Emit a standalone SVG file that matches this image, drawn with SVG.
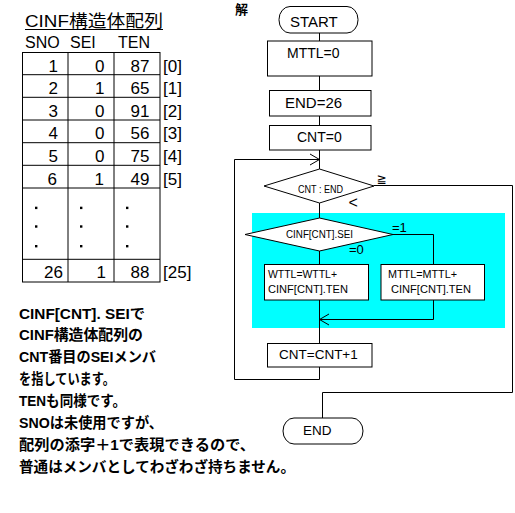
<svg xmlns="http://www.w3.org/2000/svg" width="515" height="513" viewBox="0 0 515 513">
<style>
text{font-family:"Liberation Sans","Noto Sans CJK JP",sans-serif;fill:#000}
.t17{font-size:17px}
.num{font-size:17px;text-anchor:end}
.jp{font-size:14.5px;font-weight:bold}
.box{fill:#fff;stroke:#000;stroke-width:1}
.ln{fill:none;stroke:#000;stroke-width:1}
.f11{font-size:11px}
</style>
<rect width="515" height="513" fill="#fff"/>
<g id="title">
<text x="25" y="27" class="t17" textLength="138" lengthAdjust="spacingAndGlyphs">CINF構造体配列</text>
<line x1="25" y1="29.5" x2="163" y2="29.5" class="ln"/>
</g>
<g id="header" style="font-size:16px">
<text x="25" y="47.5">SNO</text>
<text x="70" y="47.5">SEI</text>
<text x="118" y="47.5">TEN</text>
</g>
<g id="table">
<rect x="22.5" y="52.5" width="137.5" height="229.5" class="ln"/>
<line x1="68" y1="52.5" x2="68" y2="282" class="ln"/>
<line x1="114" y1="52.5" x2="114" y2="282" class="ln"/>
<g class="ln">
<line x1="22.5" y1="74.7" x2="160" y2="74.7"/>
<line x1="22.5" y1="97.3" x2="160" y2="97.3"/>
<line x1="22.5" y1="120" x2="160" y2="120"/>
<line x1="22.5" y1="142.7" x2="160" y2="142.7"/>
<line x1="22.5" y1="165.3" x2="160" y2="165.3"/>
<line x1="22.5" y1="188" x2="160" y2="188"/>
<line x1="22.5" y1="259.3" x2="160" y2="259.3"/>
</g>
<g>
<text x="58" y="72" class="num">1</text><text x="104.5" y="72" class="num">0</text><text x="149.5" y="72" class="num">87</text><text x="163" y="72" class="t17">[0]</text>
<text x="58" y="94" class="num">2</text><text x="104.5" y="94" class="num">1</text><text x="149.5" y="94" class="num">65</text><text x="163" y="94" class="t17">[1]</text>
<text x="58" y="116.7" class="num">3</text><text x="104.5" y="116.7" class="num">0</text><text x="149.5" y="116.7" class="num">91</text><text x="163" y="116.7" class="t17">[2]</text>
<text x="58" y="139.3" class="num">4</text><text x="104.5" y="139.3" class="num">0</text><text x="149.5" y="139.3" class="num">56</text><text x="163" y="139.3" class="t17">[3]</text>
<text x="58" y="162" class="num">5</text><text x="104.5" y="162" class="num">0</text><text x="149.5" y="162" class="num">75</text><text x="163" y="162" class="t17">[4]</text>
<text x="57" y="184.5" class="num">6</text><text x="104" y="184.5" class="num">1</text><text x="149.5" y="184.5" class="num">49</text><text x="163" y="184.5" class="t17">[5]</text>
<text x="63" y="278" class="num">26</text><text x="106" y="278" class="num">1</text><text x="149.5" y="278" class="num">88</text><text x="163" y="278" class="t17">[25]</text>
</g>
<g fill="#000">
<rect x="35" y="206.7" width="2.4" height="2.4"/><rect x="80" y="206.7" width="2.4" height="2.4"/><rect x="126" y="206.7" width="2.4" height="2.4"/>
<rect x="35" y="225.3" width="2.4" height="2.4"/><rect x="80" y="225.3" width="2.4" height="2.4"/><rect x="126" y="225.3" width="2.4" height="2.4"/>
<rect x="35" y="245" width="2.4" height="2.4"/><rect x="80" y="245" width="2.4" height="2.4"/><rect x="126" y="245" width="2.4" height="2.4"/>
</g>
</g>
<g id="note">
<text x="19" y="318.5" class="jp" textLength="126" lengthAdjust="spacingAndGlyphs">CINF[CNT]. SEIで</text>
<text x="19" y="340.4" class="jp" textLength="124" lengthAdjust="spacingAndGlyphs">CINF構造体配列の</text>
<text x="19" y="362.3" class="jp" textLength="137" lengthAdjust="spacingAndGlyphs">CNT番目のSEIメンバ</text>
<text x="19" y="384.2" class="jp" textLength="96" lengthAdjust="spacingAndGlyphs">を指しています。</text>
<text x="19" y="406.1" class="jp" textLength="107" lengthAdjust="spacingAndGlyphs">TENも同様です。</text>
<text x="19" y="428" class="jp" textLength="144" lengthAdjust="spacingAndGlyphs">SNOは未使用ですが、</text>
<text x="19" y="449.9" class="jp" textLength="236" lengthAdjust="spacingAndGlyphs">配列の添字＋1で表現できるので、</text>
<text x="19" y="471.8" class="jp" textLength="276" lengthAdjust="spacingAndGlyphs">普通はメンバとしてわざわざ持ちません。</text>
</g>
<text id="kai" x="235" y="14" style="font-size:13px;font-weight:bold">解</text>
<rect id="loopbg" x="252" y="213" width="253" height="115" fill="#00ffff"/>
<g id="connectors" class="ln">
<line x1="319.5" y1="33" x2="319.5" y2="41"/>
<line x1="319.5" y1="76" x2="319.5" y2="90"/>
<line x1="319.5" y1="116" x2="319.5" y2="125"/>
<line x1="319.5" y1="150" x2="319.5" y2="169"/>
<polyline points="319.5,367 319.5,379.5 234.5,379.5 234.5,159.5 319.5,159.5"/>
<polyline points="310,154 319.5,159.5 310,165"/>
<line x1="319.5" y1="203" x2="319.5" y2="218"/>
<polyline points="374,185.5 512.5,185.5 512.5,392.5 322.5,392.5 322.5,418"/>
<polyline points="393,234.5 433.5,234.5 433.5,264"/>
<line x1="319.5" y1="251" x2="319.5" y2="264"/>
<polyline points="433.5,300 433.5,319.5 319.5,319.5"/>
<polyline points="329,314 319.5,319.5 329,325"/>
<line x1="319.5" y1="300" x2="319.5" y2="343"/>
</g>
<g id="start">
<rect x="279" y="6.5" width="79" height="26.5" rx="11" ry="13" class="box"/>
<text x="290" y="27" style="font-size:15px">START</text>
</g>
<g id="mttl0">
<rect x="267.5" y="41" width="104.5" height="35" class="box"/>
<text x="287" y="58.3" style="font-size:14px">MTTL=0</text>
</g>
<g id="end26">
<rect x="269.5" y="90.5" width="101.5" height="25.5" class="box"/>
<text x="285" y="107.5" style="font-size:15px">END=26</text>
</g>
<g id="cnt0">
<rect x="269.5" y="125.5" width="101.5" height="24.5" class="box"/>
<text x="297" y="142" style="font-size:14px">CNT=0</text>
</g>
<g id="cond1">
<polygon points="264,186 319.5,169 374,186 319.5,203" class="box"/>
<text x="298" y="193" style="font-size:10px" textLength="45" lengthAdjust="spacingAndGlyphs">CNT : END</text>
<text x="376.5" y="183" style="font-size:12px;font-family:'DejaVu Sans',sans-serif">≧</text>
<text x="348.5" y="208" style="font-size:16px">&lt;</text>
</g>
<g id="cond2">
<polygon points="245,234.5 319.5,218 393,234.5 319.5,251" class="box"/>
<text x="286" y="238.3" style="font-size:10px" textLength="67" lengthAdjust="spacingAndGlyphs">CINF[CNT].SEI</text>
<text x="392" y="232" style="font-size:13px">=1</text>
<text x="349" y="254" style="font-size:13px">=0</text>
</g>
<g id="wttl">
<rect x="264.5" y="264.5" width="104" height="35.5" class="box"/>
<text x="268" y="278" class="f11" textLength="69" lengthAdjust="spacingAndGlyphs">WTTL=WTTL+</text>
<text x="268" y="293" class="f11" textLength="80" lengthAdjust="spacingAndGlyphs">CINF[CNT].TEN</text>
</g>
<g id="mttl">
<rect x="381" y="264.5" width="103.5" height="35.5" class="box"/>
<text x="388" y="278" class="f11" textLength="69" lengthAdjust="spacingAndGlyphs">MTTL=MTTL+</text>
<text x="391" y="293" class="f11" textLength="80" lengthAdjust="spacingAndGlyphs">CINF[CNT].TEN</text>
</g>
<g id="inc">
<rect x="267.5" y="343.5" width="104.5" height="23.5" class="box"/>
<text x="279" y="359" style="font-size:13.5px">CNT=CNT+1</text>
</g>
<g id="end">
<rect x="283" y="418" width="80" height="26" rx="11" ry="13" class="box"/>
<text x="303" y="435" style="font-size:13.5px">END</text>
</g>
</svg>
